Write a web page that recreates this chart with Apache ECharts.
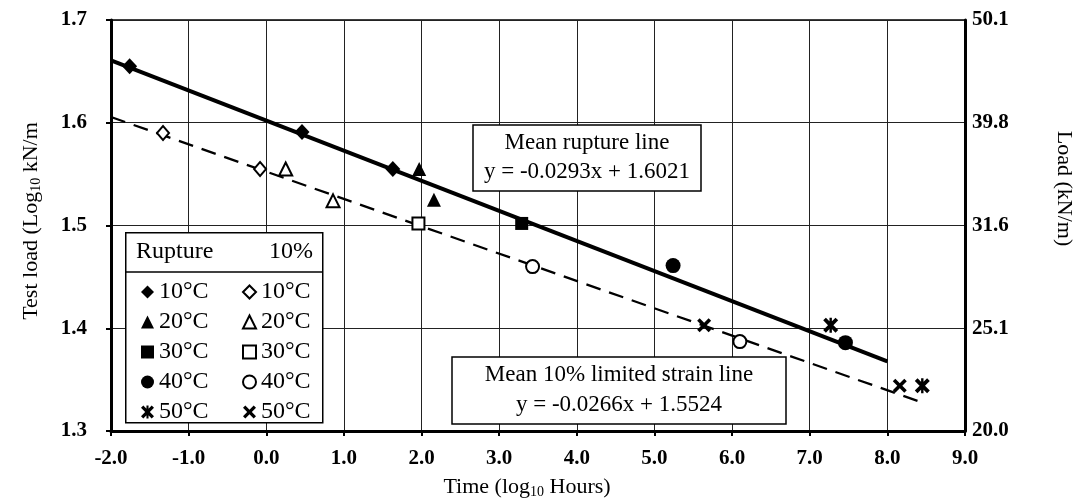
<!DOCTYPE html>
<html><head><meta charset="utf-8">
<script src="https://cdn.jsdelivr.net/npm/echarts@6/dist/echarts.min.js"></script>
<style>html,body{margin:0;padding:0;background:#fff}#c{width:1092px;height:504px}</style>
</head><body><div id="c"></div>
<script>
// ---- data (x = log10 hours, y = log10 kN/m) ----
const temps = ['10', '20', '30', '40', '50'];
const rupture10 = [[-1.76, 1.655], [0.46, 1.591], [1.63, 1.555]];
const rupture20 = [[1.97, 1.555], [2.16, 1.525]];
const rupture30 = [[3.29, 1.502]];
const rupture40 = [[5.24, 1.461], [7.46, 1.386]];
const rupture50 = [[7.27, 1.403], [8.45, 1.344]];
const strain10 = [[-1.33, 1.590], [-0.08, 1.555]];
const strain20 = [[0.25, 1.555], [0.86, 1.524]];
const strain30 = [[1.96, 1.502]];
const strain40 = [[3.43, 1.460], [6.10, 1.387]];
const strain50 = [[5.64, 1.403], [8.16, 1.344]];
const ruptureLine = [[-2.0, 1.6607], [8.0, 1.3677]];
const strainLine = [[-2.0, 1.6056], [8.46, 1.3274]];
const xTickLabels = ['-2.0', '-1.0', '0.0', '1.0', '2.0', '3.0', '4.0', '5.0', '6.0', '7.0', '8.0', '9.0'];
const yLeftTickLabels = ['1.3', '1.4', '1.5', '1.6', '1.7'];
const yRightTickLabels = ['20.0', '25.1', '31.6', '39.8', '50.1'];
const ruptureEq = ['Mean rupture line', 'y = -0.0293x + 1.6021'];
const strainEq = ['Mean 10% limited strain line', 'y = -0.0266x + 1.5524'];

const FONT = '"Liberation Serif", "Times New Roman", serif';
const ASTER = 'path://M0,1.8 L1.8,0 L5,3.2 L8.2,0 L10,1.8 L6.8,5 L10,8.2 L8.2,10 L5,6.8 L1.8,10 L0,8.2 L3.2,5 Z M4.2,0 L5.8,0 L5.8,10 L4.2,10 Z';
const CROSS = 'path://M0,1.8 L1.8,0 L5,3.2 L8.2,0 L10,1.8 L6.8,5 L10,8.2 L8.2,10 L5,6.8 L1.8,10 L0,8.2 L3.2,5 Z';

const filled = { color: '#000', opacity: 1 };
const hollow = { color: '#fff', borderColor: '#000', borderWidth: 2, opacity: 1 };

function sc(name, data, symbol, size, style) {
  return { type: 'scatter', name, data, symbol, symbolSize: size, itemStyle: style, z: 5 };
}

const series = [
  { type: 'line', data: ruptureLine, showSymbol: false, silent: true, lineStyle: { color: '#000', width: 4 }, z: 3 },
  { type: 'line', data: strainLine, showSymbol: false, silent: true, lineStyle: { color: '#000', width: 2.3, type: [15, 9] }, z: 3 },
  sc('R10', rupture10, 'diamond', [15, 16], filled),
  sc('R20', rupture20, 'triangle', 14, filled),
  sc('R30', rupture30, 'rect', 13, filled),
  sc('R40', rupture40, 'circle', 15, filled),
  sc('R50', rupture50, ASTER, 15, filled),
  sc('S10', strain10, 'diamond', [12, 14], hollow),
  sc('S20', strain20, 'triangle', 13, hollow),
  sc('S30', strain30, 'rect', 12, hollow),
  sc('S40', strain40, 'circle', 13, hollow),
  sc('S50', strain50, CROSS, 14, filled)
];

const legendCommon = {
  orient: 'vertical', itemWidth: 13, itemHeight: 13, itemGap: 6, z: 20,
  selectedMode: false,
  textStyle: { fontFamily: FONT, fontSize: 24, color: '#000', lineHeight: 24 },
  formatter: n => n.slice(1) + '°C'
};

function eqBox(x, y, w, h, lines) {
  return [
    { type: 'rect', z: 15, shape: { x: x, y: y, width: w, height: h }, style: { fill: '#fff', stroke: '#000', lineWidth: 1.5 } },
    { type: 'text', z: 16, x: x + w / 2, y: y + h * 0.27, style: { text: lines[0], font: '23px ' + FONT, fill: '#000', textAlign: 'center', textVerticalAlign: 'middle' } },
    { type: 'text', z: 16, x: x + w / 2, y: y + h * 0.71, style: { text: lines[1], font: '23px ' + FONT, fill: '#000', textAlign: 'center', textVerticalAlign: 'middle' } }
  ];
}

const option = {
  animation: false,
  backgroundColor: '#fff',
  grid: { left: 111, right: 127, top: 20, bottom: 69, show: true, borderColor: '#000', borderWidth: 1.5 },
  xAxis: {
    type: 'value', min: -2, max: 9, interval: 1,
    name: '{a|Time (log}{s|10}{a| Hours)}', nameLocation: 'middle', nameGap: 44,
    nameTextStyle: {
      padding: [0, 22, 0, 0],
      rich: { a: { fontFamily: FONT, fontSize: 22, color: '#000', lineHeight: 24 },
              s: { fontFamily: FONT, fontSize: 14, color: '#000', lineHeight: 14, verticalAlign: 'bottom' } }
    },
    axisLine: { onZero: false, lineStyle: { color: '#000', width: 3 } },
    axisTick: { length: 5, lineStyle: { color: '#000', width: 2 } },
    axisLabel: { margin: 17, fontFamily: FONT, fontSize: 21, fontWeight: 'bold', color: '#000',
                 formatter: v => xTickLabels[Math.round(v + 2)] },
    splitLine: { show: true, lineStyle: { color: '#222', width: 1 } }
  },
  yAxis: [{
    type: 'value', min: 1.3, max: 1.7, interval: 0.1, position: 'left',
    name: '{a|Test load (Log}{s|10}{a| kN/m}', nameLocation: 'middle', nameGap: 68, nameRotate: 90,
    nameTextStyle: {
      padding: [0, 0, 0, 9],
      rich: { a: { fontFamily: FONT, fontSize: 22, color: '#000', lineHeight: 24 },
              s: { fontFamily: FONT, fontSize: 14, color: '#000', lineHeight: 14, verticalAlign: 'bottom' } }
    },
    axisLine: { show: true, onZero: false, lineStyle: { color: '#000', width: 3 } },
    axisTick: { show: true, length: 5, lineStyle: { color: '#000', width: 2 } },
    axisLabel: { margin: 24, fontFamily: FONT, fontSize: 21, fontWeight: 'bold', color: '#000',
                 formatter: v => yLeftTickLabels[Math.round((v - 1.3) * 10)] },
    splitLine: { show: true, lineStyle: { color: '#222', width: 1 } }
  }, {
    type: 'value', min: 1.3, max: 1.7, interval: 0.1, position: 'right',
    name: 'Load (kN/m)', nameLocation: 'middle', nameGap: 88, nameRotate: -90,
    nameTextStyle: { fontFamily: FONT, fontSize: 22, color: '#000', padding: [0, 74, 0, 0] },
    axisLine: { show: true, onZero: false, lineStyle: { color: '#000', width: 3 } },
    axisTick: { show: false },
    axisLabel: { margin: 7, fontFamily: FONT, fontSize: 21, fontWeight: 'bold', color: '#000',
                 formatter: v => yRightTickLabels[Math.round((v - 1.3) * 10)] },
    splitLine: { show: false }
  }],
  legend: [
    Object.assign({}, legendCommon, { left: 136, top: 275, data: temps.map(t => 'R' + t) }),
    Object.assign({}, legendCommon, { left: 237, top: 275, data: temps.map(t => 'S' + t) })
  ],
  graphic: [
    { type: 'rect', left: 125, top: 232, z: 15, shape: { width: 197, height: 190 },
      style: { fill: '#fff', stroke: '#000', lineWidth: 1.5 } },
    { type: 'line', z: 16, shape: { x1: 125, y1: 272, x2: 322, y2: 272 }, style: { stroke: '#000', lineWidth: 1.5 } },
    { type: 'text', left: 136, top: 240, z: 16, style: { text: 'Rupture', font: '24px ' + FONT, fill: '#000' } },
    { type: 'text', right: 1092 - 313, top: 240, z: 16, style: { text: '10%', font: '24px ' + FONT, fill: '#000' } }
  ].concat(eqBox(473, 125, 228, 66, ruptureEq), eqBox(452, 357, 334, 67, strainEq)),
  series
};

const chart = echarts.init(document.getElementById('c'), null, { renderer: 'canvas' });
chart.setOption(option);
</script>
</body></html>
